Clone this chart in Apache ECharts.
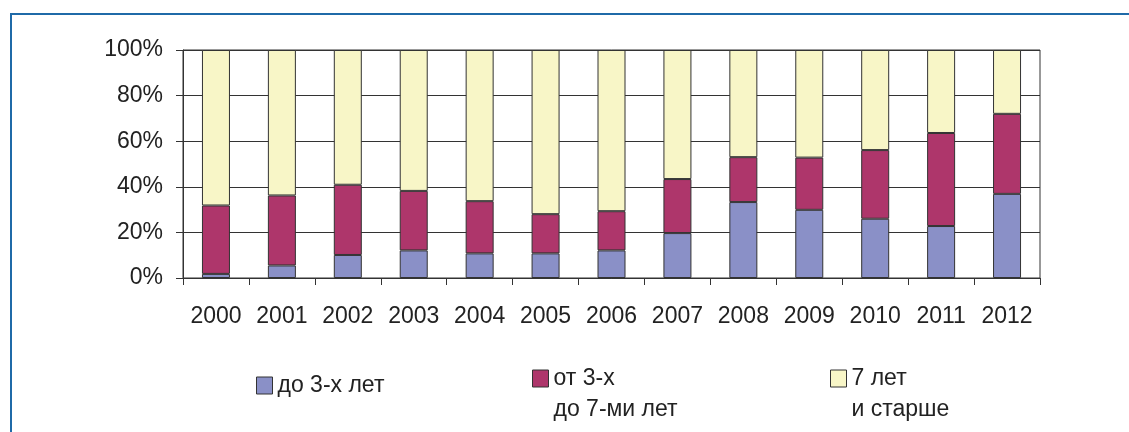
<!DOCTYPE html>
<html>
<head>
<meta charset="utf-8">
<script src="https://cdn.jsdelivr.net/npm/echarts@6/dist/echarts.min.js"></script>
<style>
  html, body { margin: 0; padding: 0; background: #ffffff; }
  #chart { width: 1129px; height: 432px; }
</style>
</head>
<body>
<div id="chart"></div>
<script>
// Years on the category axis
const years = ['2000', '2001', '2002', '2003', '2004', '2005', '2006', '2007', '2008', '2009', '2010', '2011', '2012'];

// Shares by age group, percent of the year's total
const under3 = [1.8, 5.5, 10.1, 12.1, 10.8, 10.8, 12.1, 19.7, 33.3, 29.9, 26.0, 22.8, 36.9];
const from3to7 = [30.0, 30.7, 30.8, 26.1, 22.9, 17.2, 17.2, 23.7, 19.7, 22.9, 30.1, 40.8, 35.1];
const over7 = [68.2, 63.8, 59.1, 61.8, 66.3, 72.0, 70.7, 56.6, 47.0, 47.2, 43.9, 36.4, 28.0];

// Series names
const nameUnder3 = 'до 3-х лет';
const nameFrom3to7 = 'от 3-х до 7-ми лет';
const nameOver7 = '7 лет и старше';

// Legend captions: two-line captions get an empty leading line so the
// swatch, which sits at the vertical centre of the text block, lines up
// with the first written line
const legendCaptions = {};
legendCaptions[nameUnder3] = 'до 3-х лет';
legendCaptions[nameFrom3to7] = '\nот 3-х\nдо 7-ми лет';
legendCaptions[nameOver7] = '\n7 лет\nи старше';

const FONT = '"Liberation Sans", Arial, sans-serif';
const TEXT = '#222222';
const LINE = '#333333';
const LEG_LH = 31;

const chart = echarts.init(document.getElementById('chart'), null, { renderer: 'canvas' });

function legendFor(name, left, top) {
  return {
    data: [name],
    left: left,
    top: top,
    orient: 'horizontal',
    padding: 0,
    icon: 'rect',
    itemWidth: 16,
    itemHeight: 17,
    selectedMode: false,
    formatter: function (n) { return legendCaptions[n]; },
    itemStyle: { borderColor: LINE, borderWidth: 1 },
    textStyle: {
      fontFamily: FONT,
      fontSize: 23,
      color: TEXT,
      lineHeight: LEG_LH
    }
  };
}

function barSeries(name, data, color) {
  return {
    name: name,
    type: 'bar',
    stack: 'total',
    data: data,
    barWidth: 28,
    itemStyle: { color: color, borderColor: LINE, borderWidth: 1 },
    emphasis: { disabled: true }
  };
}

const option = {
  backgroundColor: '#ffffff',
  animation: false,
  textStyle: { fontFamily: FONT },
  grid: {
    left: 183,
    right: 89,
    top: 50,
    bottom: 154,
    show: true,
    borderColor: LINE,
    borderWidth: 1,
    containLabel: false
  },
  legend: [
    legendFor(nameUnder3, 256, 370),
    legendFor(nameFrom3to7, 532, 332),
    legendFor(nameOver7, 830, 332)
  ],
  xAxis: {
    type: 'category',
    data: years,
    boundaryGap: true,
    axisLine: { show: true, lineStyle: { color: LINE, width: 1 } },
    axisTick: { show: true, length: 7, alignWithLabel: false, interval: 0, lineStyle: { color: LINE } },
    axisLabel: { interval: 0, margin: 27, fontSize: 23, color: TEXT, fontFamily: FONT },
    splitLine: { show: false }
  },
  yAxis: {
    type: 'value',
    min: 0,
    max: 100,
    interval: 20,
    axisLine: { show: true, lineStyle: { color: LINE, width: 1 } },
    axisTick: { show: true, length: 7, lineStyle: { color: LINE } },
    axisLabel: { margin: 20, fontSize: 23, color: TEXT, fontFamily: FONT, formatter: '{value}%' },
    splitLine: { show: true, lineStyle: { color: LINE, width: 1 } }
  },
  graphic: [
    {
      type: 'polyline',
      shape: { points: [[11, 432], [11, 14], [1129, 14]] },
      style: { stroke: '#1f6aa8', lineWidth: 2, fill: null },
      silent: true
    }
  ],
  series: [
    barSeries(nameUnder3, under3, '#8a90c7'),
    barSeries(nameFrom3to7, from3to7, '#ae366b'),
    barSeries(nameOver7, over7, '#f8f6c7')
  ]
};

chart.setOption(option);
</script>
</body>
</html>
